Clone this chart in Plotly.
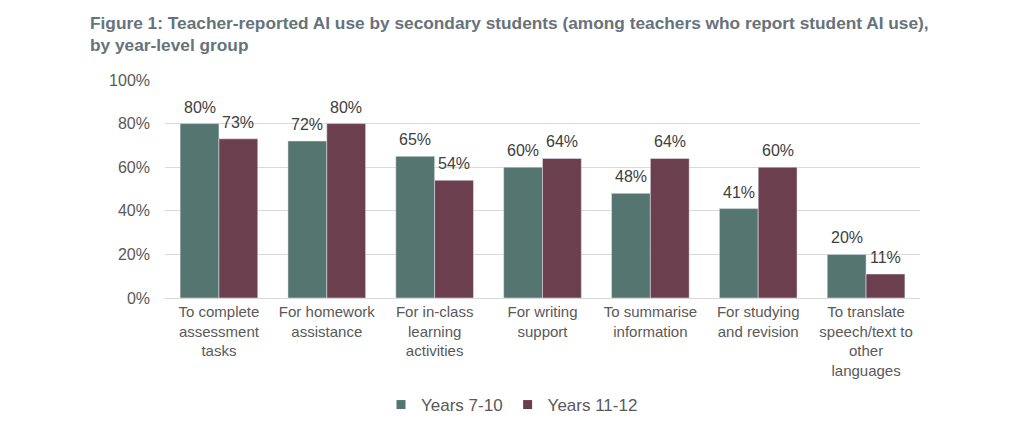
import plotly.graph_objects as go

categories = [
    "To complete<br>assessment<br>tasks",
    "For homework<br>assistance",
    "For in-class<br>learning<br>activities",
    "For writing<br>support",
    "To summarise<br>information",
    "For studying<br>and revision",
    "To translate<br>speech/text to<br>other<br>languages",
]
years_7_10 = [80, 72, 65, 60, 48, 41, 20]
years_11_12 = [73, 80, 54, 64, 64, 60, 11]
series_names = ["Years 7-10", "Years 11-12"]
y_ticks = [0, 20, 40, 60, 80, 100]
y_tick_labels = [f"{v}%" for v in y_ticks]

green = "#557570"
maroon = "#6c3f4f"
colors = [green, maroon]
FONT = "Liberation Sans, Arial, sans-serif"

# layout geometry (figure-relative pixels; page body adds 8px offset)
ML, MR, MT, MB = 157, 112, 72, 136
W, H = 1024, 426
plot_w = W - ML - MR
plot_h = H - MT - MB
bargap = 0.28
bar_px = plot_w / len(categories) * (1 - bargap) / 2

fig = go.Figure()
for name, vals, col, sgn in zip(series_names, [years_7_10, years_11_12], colors, [-1, 1]):
    fig.add_trace(go.Bar(
        name=name, x=categories, y=vals, marker_color=col, showlegend=False,
    ))
    for c, v in zip(categories, vals):
        fig.add_annotation(
            x=c, y=v, xref="x", yref="y", text=f"{v}%", showarrow=False,
            xshift=sgn * bar_px / 2, yshift=6, yanchor="bottom",
            font=dict(size=16, color="#404040", family=FONT),
        )
    # legend entry
    fig.add_trace(go.Scatter(
        name=name, x=[None], y=[None], mode="markers",
        marker=dict(symbol="square", size=9, color=col), showlegend=True,
    ))

fig.update_layout(
    width=W, height=H,
    margin=dict(l=ML, r=MR, t=MT, b=MB, autoexpand=False),
    barmode="group", bargap=bargap, bargroupgap=0,
    plot_bgcolor="white", paper_bgcolor="white",
    font=dict(family=FONT, color="#595959", size=15),
    legend=dict(
        orientation="h", x=(512 - 165) / plot_w, xanchor="center",
        y=(298 - 405) / plot_h, yanchor="middle",
        font=dict(size=17, color="#595959"), traceorder="normal",
        itemwidth=30,
    ),
)
fig.add_annotation(
    text="<b>Figure 1: Teacher-reported AI use by secondary students (among teachers who report student AI use),<br>by year-level group</b>",
    xref="paper", yref="paper",
    x=(88 - 165) / plot_w, y=(298 - 11) / plot_h,
    xanchor="left", yanchor="top", align="left", showarrow=False,
    font=dict(size=17.3, color="#66737a", family=FONT),
)
fig.update_yaxes(
    range=[0, 100], tickvals=y_ticks, ticktext=y_tick_labels, showgrid=True,
    gridcolor="#d9d9d9", gridwidth=1, zeroline=False, showline=False,
    tickfont=dict(size=16, color="#595959"), ticklabelstandoff=14,
    automargin=False,
)
fig.update_xaxes(
    showline=True, linecolor="#d9d9d9", linewidth=1,
    tickfont=dict(size=15, color="#595959"), tickangle=0,
    automargin=False,
)

fig.write_html("out.html")
